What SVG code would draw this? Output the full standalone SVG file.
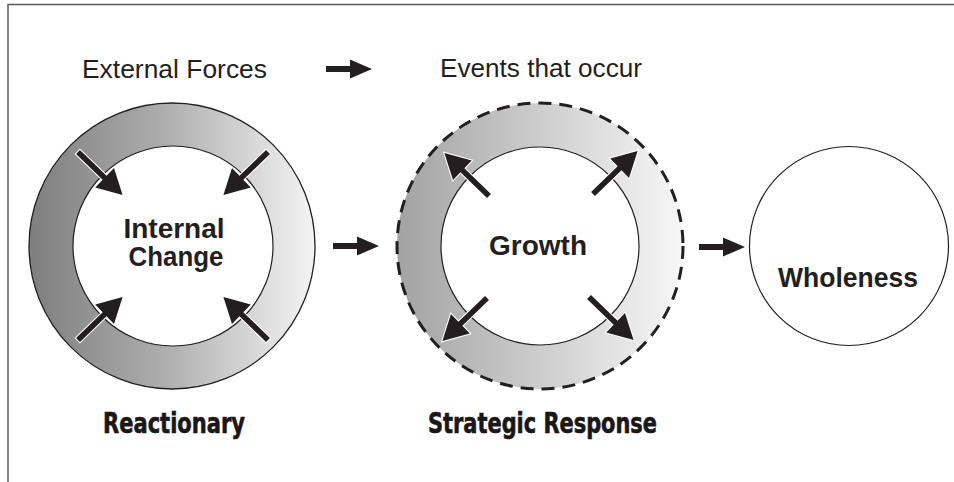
<svg xmlns="http://www.w3.org/2000/svg" xmlns:xlink="http://www.w3.org/1999/xlink" width="954" height="482" viewBox="0 0 954 482">
  <style>
    .frame { fill: none; stroke: #5a5a5a; stroke-width: 1.5; }
    .caption { font-family: "Liberation Sans", Arial, sans-serif; font-size: 26px; fill: #231f20; }
    .core { font-family: "Liberation Sans", Arial, sans-serif; font-weight: bold; font-size: 28px; fill: #231f20; text-anchor: middle; }
    .mode { font-family: "DejaVu Sans Condensed", "DejaVu Sans", sans-serif; font-weight: bold; font-size: 28px; fill: #1a1718; text-anchor: middle; stroke: #1a1718; stroke-width: 0.6; }
    .ring-edge { stroke: #231f20; stroke-width: 1.3; }
    .ring-dash { stroke: #231f20; stroke-width: 3; stroke-dasharray: 13 8; }
    .hole { fill: #ffffff; stroke: #231f20; stroke-width: 1.2; }
    .solid-arrow { fill: #231f20; }
    .force { fill: #231f20; stroke: #ffffff; stroke-width: 2.2; stroke-linejoin: miter; paint-order: stroke; }
  </style>
  <defs>
    <linearGradient id="ringDark" x1="0" y1="0" x2="1" y2="0">
      <stop offset="0" stop-color="#7e7e7e"/>
      <stop offset="0.45" stop-color="#ababab"/>
      <stop offset="1" stop-color="#f4f4f4"/>
    </linearGradient>
    <linearGradient id="ringLight" x1="0" y1="0" x2="1" y2="0">
      <stop offset="0" stop-color="#a2a2a2"/>
      <stop offset="0.45" stop-color="#c9c9c9"/>
      <stop offset="1" stop-color="#f7f7f7"/>
    </linearGradient>
    <!-- diagonal force arrow, tail at origin pointing along +x -->
    <path id="force" class="force" d="M0,-2.8 L37,-2.8 L37,-13.5 L62,0 L37,13.5 L37,2.8 L0,2.8 Z"/>
    <!-- horizontal flow arrow, tail at origin pointing along +x -->
    <path id="flow" class="solid-arrow" d="M0,-3 L24,-3 L24,-9.5 L46,0 L24,9.5 L24,3 L0,3 Z"/>
  </defs>

  <rect width="954" height="482" fill="#ffffff"/>
  <path class="frame" d="M8,482 L8,4.5 L954,4.5"/>

  <!-- heading line -->
  <g id="heading">
    <text class="caption" x="82" y="78" textLength="185" lengthAdjust="spacingAndGlyphs">External Forces</text>
    <use xlink:href="#flow" transform="translate(326,69)"/>
    <text class="caption" x="440" y="77" textLength="202" lengthAdjust="spacingAndGlyphs">Events that occur</text>
  </g>

  <!-- reactionary ring: forces pushing inward -->
  <g id="internal-change">
    <circle cx="172" cy="246" r="143" fill="url(#ringDark)" class="ring-edge"/>
    <circle cx="173" cy="246" r="100" class="hole"/>
    <use xlink:href="#force" transform="translate(78,152) rotate(44)"/>
    <use xlink:href="#force" transform="translate(268,152) rotate(136)"/>
    <use xlink:href="#force" transform="translate(78,340) rotate(-44)"/>
    <use xlink:href="#force" transform="translate(268,340) rotate(-136)"/>
    <text class="core" x="174" y="238">Internal</text>
    <text class="core" x="176" y="266" textLength="95" lengthAdjust="spacingAndGlyphs">Change</text>
  </g>

  <!-- strategic ring: growth pushing outward -->
  <g id="growth">
    <circle cx="540" cy="246" r="143" fill="url(#ringLight)" class="ring-dash"/>
    <circle cx="540" cy="246" r="99" class="hole"/>
    <use xlink:href="#force" transform="translate(489,196) rotate(-136)"/>
    <use xlink:href="#force" transform="translate(593,194) rotate(-44)"/>
    <use xlink:href="#force" transform="translate(487,298) rotate(136)"/>
    <use xlink:href="#force" transform="translate(589,297) rotate(44)"/>
    <text class="core" x="538" y="255">Growth</text>
  </g>

  <g id="wholeness">
    <circle cx="849" cy="246" r="99.5" class="hole"/>
    <text class="core" x="848" y="287" font-size="25" textLength="140" lengthAdjust="spacingAndGlyphs">Wholeness</text>
  </g>

  <g id="connectors">
    <use xlink:href="#flow" transform="translate(333,246)"/>
    <use xlink:href="#flow" transform="translate(699,247)"/>
  </g>

  <g id="modes">
    <text class="mode" x="174" y="433" textLength="142" lengthAdjust="spacingAndGlyphs">Reactionary</text>
    <text class="mode" x="542.5" y="433" textLength="229" lengthAdjust="spacingAndGlyphs">Strategic Response</text>
  </g>
</svg>
